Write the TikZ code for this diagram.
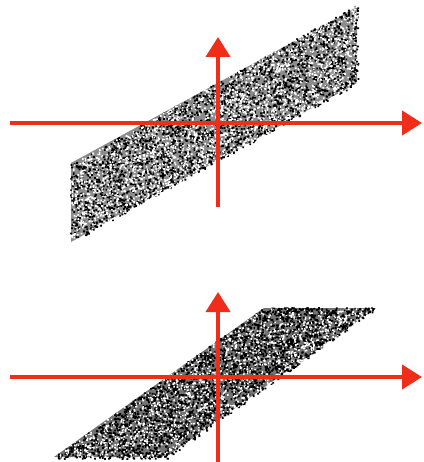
\documentclass[tikz,border=0pt]{standalone}
\usetikzlibrary{arrows.meta}
\definecolor{axred}{RGB}{240,45,25}
\begin{document}
\begin{tikzpicture}[x=1pt,y=-1pt,
  axis/.style={draw=axred,line width=4pt,-{Triangle[width=24pt,length=20pt]}},
  grain/.style={fill=black},
  lgrain/.style={fill=white}]
\useasboundingbox[fill=white] (0,0) rectangle (423,462);
\pgfmathsetseed{7}
% top noisy parallelogram
\fill[black!45] (71,242) -- (357,83) -- (357,7) -- (71,163) -- cycle;
\foreach \k in {1,...,2}{
\fill[grain] foreach \i [evaluate=\i as \u using rnd, evaluate=\i as \v using rnd] in {1,...,1400}
  { ({70+288*\u},{243-160*\u-79*\v}) rectangle ++(1.8,1.8) };
\fill[lgrain] foreach \i [evaluate=\i as \u using rnd, evaluate=\i as \v using rnd] in {1,...,1400}
  { ({71+286*\u},{242-159*\u-78*\v}) rectangle ++(1.6,1.6) };
}
% bottom noisy parallelogram
\fill[black!55] (54,457) -- (166,457) -- (376,308) -- (264,308) -- cycle;
\foreach \k in {1,...,2}{
\fill[grain] foreach \i [evaluate=\i as \u using rnd, evaluate=\i as \v using rnd] in {1,...,1500}
  { ({52+115*\u+211*\v},{458-151*\v}) rectangle ++(1.8,1.8) };
\fill[lgrain] foreach \i [evaluate=\i as \u using rnd, evaluate=\i as \v using rnd] in {1,...,800}
  { ({53+113*\u+210*\v},{457-149*\v}) rectangle ++(1.6,1.6) };
}
% axes top
\coordinate (t-l) at (10,123);
\coordinate (t-r) at (422,123);
\coordinate (t-b) at (218,207);
\coordinate (t-t) at (218,37);
\draw[axis] (t-l) -- (t-r);
\draw[axis] (t-b) -- (t-t);
% axes bottom
\coordinate (b-l) at (10,377);
\coordinate (b-r) at (422,377);
\coordinate (b-b) at (218,462);
\coordinate (b-t) at (218,292);
\draw[axis] (b-l) -- (b-r);
\draw[axis] (b-b) -- (b-t);
\end{tikzpicture}
\end{document}
